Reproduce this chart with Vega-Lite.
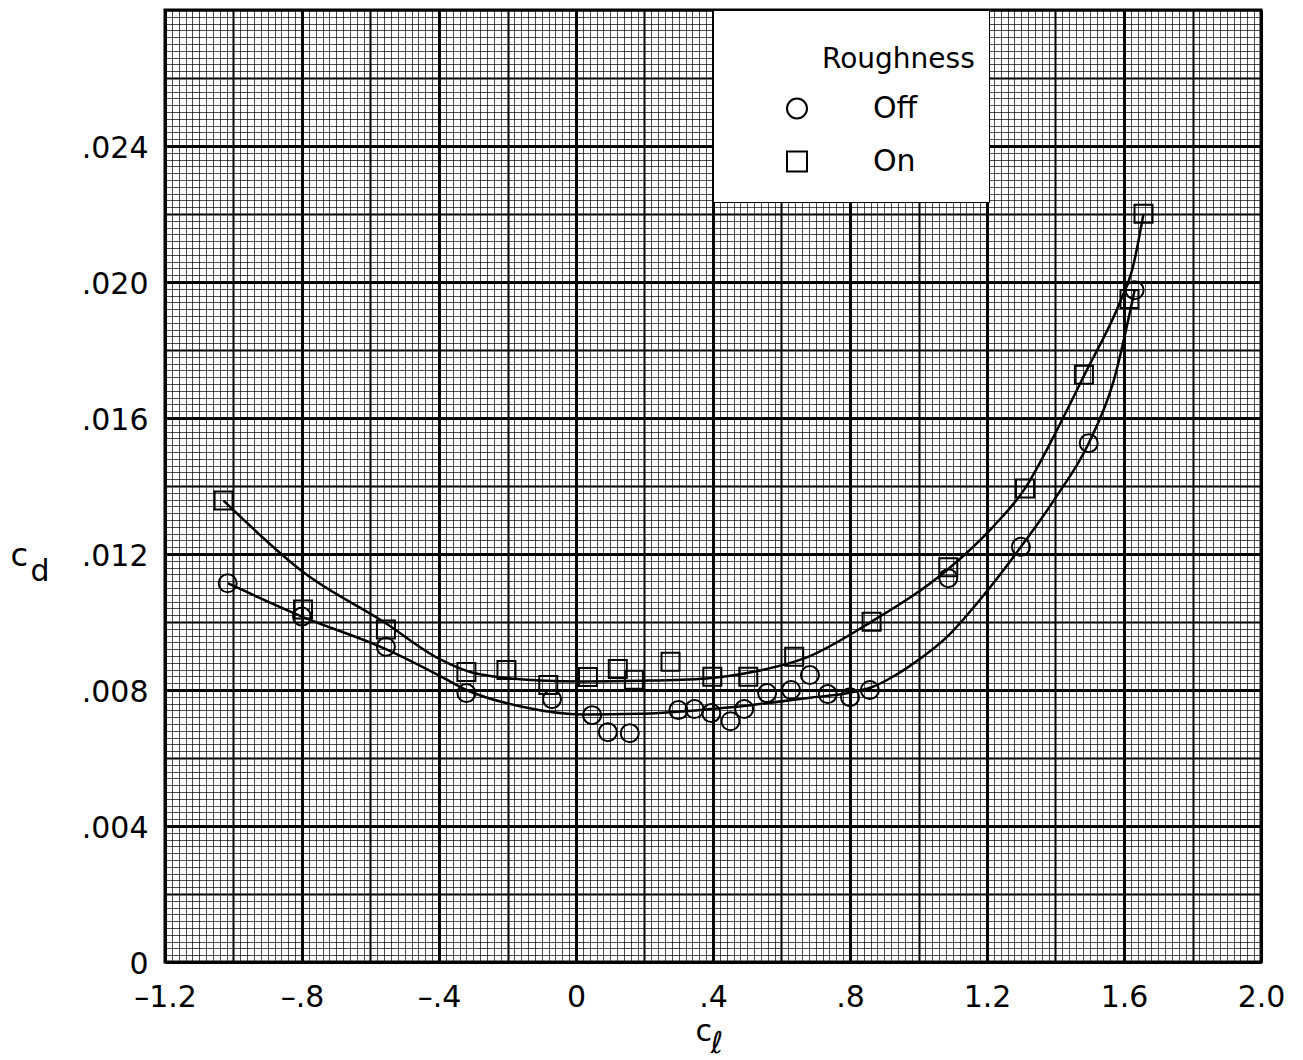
{
  "$schema": "https://vega.github.io/schema/vega-lite/v6.json",
  "width": 1096,
  "height": 952,
  "autosize": {"type": "none"},
  "padding": {"left": 165, "top": 10, "right": 42, "bottom": 98},
  "background": "white",
  "config": {
    "view": {"stroke": "#000", "strokeWidth": 3},
    "font": "DejaVu Sans"
  },
  "datasets": {
    "points": [
      {"roughness": "Off", "cl": -1.017, "cd": 0.01114},
      {"roughness": "Off", "cl": -0.800, "cd": 0.01016},
      {"roughness": "Off", "cl": -0.555, "cd": 0.00927},
      {"roughness": "Off", "cl": -0.320, "cd": 0.00791},
      {"roughness": "Off", "cl": -0.070, "cd": 0.00773},
      {"roughness": "Off", "cl": 0.047, "cd": 0.00726},
      {"roughness": "Off", "cl": 0.093, "cd": 0.00676},
      {"roughness": "Off", "cl": 0.157, "cd": 0.00673},
      {"roughness": "Off", "cl": 0.299, "cd": 0.00741},
      {"roughness": "Off", "cl": 0.346, "cd": 0.00744},
      {"roughness": "Off", "cl": 0.395, "cd": 0.00732},
      {"roughness": "Off", "cl": 0.451, "cd": 0.00708},
      {"roughness": "Off", "cl": 0.491, "cd": 0.00744},
      {"roughness": "Off", "cl": 0.558, "cd": 0.00791},
      {"roughness": "Off", "cl": 0.628, "cd": 0.00800},
      {"roughness": "Off", "cl": 0.683, "cd": 0.00844},
      {"roughness": "Off", "cl": 0.735, "cd": 0.00788},
      {"roughness": "Off", "cl": 0.800, "cd": 0.00779},
      {"roughness": "Off", "cl": 0.858, "cd": 0.00800},
      {"roughness": "Off", "cl": 1.087, "cd": 0.01129},
      {"roughness": "Off", "cl": 1.299, "cd": 0.01221},
      {"roughness": "Off", "cl": 1.497, "cd": 0.01526},
      {"roughness": "Off", "cl": 1.631, "cd": 0.01976},
      {"roughness": "On", "cl": -1.029, "cd": 0.01357},
      {"roughness": "On", "cl": -0.797, "cd": 0.01037},
      {"roughness": "On", "cl": -0.555, "cd": 0.00978},
      {"roughness": "On", "cl": -0.320, "cd": 0.00853},
      {"roughness": "On", "cl": -0.203, "cd": 0.00859},
      {"roughness": "On", "cl": -0.081, "cd": 0.00815},
      {"roughness": "On", "cl": 0.035, "cd": 0.00838},
      {"roughness": "On", "cl": 0.122, "cd": 0.00862},
      {"roughness": "On", "cl": 0.169, "cd": 0.00830},
      {"roughness": "On", "cl": 0.276, "cd": 0.00883},
      {"roughness": "On", "cl": 0.398, "cd": 0.00839},
      {"roughness": "On", "cl": 0.503, "cd": 0.00839},
      {"roughness": "On", "cl": 0.637, "cd": 0.00898},
      {"roughness": "On", "cl": 0.863, "cd": 0.01001},
      {"roughness": "On", "cl": 1.087, "cd": 0.01161},
      {"roughness": "On", "cl": 1.311, "cd": 0.01393},
      {"roughness": "On", "cl": 1.483, "cd": 0.01727},
      {"roughness": "On", "cl": 1.616, "cd": 0.01950},
      {"roughness": "On", "cl": 1.657, "cd": 0.02201}
    ],
    "curves": [
      {"series": "On", "cl": -1.029, "cd": 0.01357},
      {"series": "On", "cl": -0.794, "cd": 0.01145},
      {"series": "On", "cl": -0.561, "cd": 0.01000},
      {"series": "On", "cl": -0.395, "cd": 0.00889},
      {"series": "On", "cl": -0.299, "cd": 0.00850},
      {"series": "On", "cl": -0.105, "cd": 0.00828},
      {"series": "On", "cl": 0.020, "cd": 0.00825},
      {"series": "On", "cl": 0.186, "cd": 0.00827},
      {"series": "On", "cl": 0.381, "cd": 0.00834},
      {"series": "On", "cl": 0.526, "cd": 0.00855},
      {"series": "On", "cl": 0.672, "cd": 0.00895},
      {"series": "On", "cl": 0.863, "cd": 0.01001},
      {"series": "On", "cl": 1.087, "cd": 0.01156},
      {"series": "On", "cl": 1.212, "cd": 0.01274},
      {"series": "On", "cl": 1.311, "cd": 0.01393},
      {"series": "On", "cl": 1.407, "cd": 0.01570},
      {"series": "On", "cl": 1.483, "cd": 0.01724},
      {"series": "On", "cl": 1.590, "cd": 0.01945},
      {"series": "On", "cl": 1.625, "cd": 0.02040},
      {"series": "On", "cl": 1.657, "cd": 0.02201},
      {"series": "Off", "cl": -1.017, "cd": 0.01114},
      {"series": "Off", "cl": -0.800, "cd": 0.01016},
      {"series": "Off", "cl": -0.555, "cd": 0.00920},
      {"series": "Off", "cl": -0.395, "cd": 0.00840},
      {"series": "Off", "cl": -0.320, "cd": 0.00800},
      {"series": "Off", "cl": -0.154, "cd": 0.00750},
      {"series": "Off", "cl": 0.020, "cd": 0.00728},
      {"series": "Off", "cl": 0.186, "cd": 0.00730},
      {"series": "Off", "cl": 0.350, "cd": 0.00740},
      {"series": "Off", "cl": 0.515, "cd": 0.00756},
      {"series": "Off", "cl": 0.689, "cd": 0.00778},
      {"series": "Off", "cl": 0.800, "cd": 0.00792},
      {"series": "Off", "cl": 0.863, "cd": 0.00808},
      {"series": "Off", "cl": 0.930, "cd": 0.00842},
      {"series": "Off", "cl": 0.991, "cd": 0.00882},
      {"series": "Off", "cl": 1.087, "cd": 0.00960},
      {"series": "Off", "cl": 1.183, "cd": 0.01070},
      {"series": "Off", "cl": 1.299, "cd": 0.01221},
      {"series": "Off", "cl": 1.400, "cd": 0.01365},
      {"series": "Off", "cl": 1.497, "cd": 0.01526},
      {"series": "Off", "cl": 1.570, "cd": 0.01710},
      {"series": "Off", "cl": 1.631, "cd": 0.01976}
    ]
  },
  "resolve": {"axis": {"x": "independent", "y": "independent"}},
  "layer": [
    {
      "data": {"name": "curves"},
      "transform": [{"filter": "datum.series == 'On'"}],
      "mark": {"type": "line", "interpolate": "monotone", "color": "black", "strokeWidth": 2.5},
      "encoding": {
        "x": {"field": "cl", "type": "quantitative",
              "scale": {"domain": [-1.2, 2.0], "nice": false, "zero": false},
              "axis": {"orient": "bottom", "labels": false, "ticks": false, "domain": false,
                       "title": "c", "titleAngle": 0, "titleAlign": "left", "titleBaseline": "alphabetic",
                       "titleX": 530, "titleY": 78, "titleFont": "DejaVu Sans", "titleFontSize": 30,
                       "titleFontWeight": "normal", "titleColor": "#000",
                       "grid": true, "tickCount": 160, "gridColor": "#000", "gridWidth": 1, "gridOpacity": 0.7}},
        "y": {"field": "cd", "type": "quantitative",
              "scale": {"domain": [0, 0.028], "nice": false, "zero": false},
              "axis": {"orient": "left", "labels": false, "ticks": false, "domain": false,
                       "title": "c", "titleAngle": 0, "titleAlign": "left", "titleBaseline": "alphabetic",
                       "titleX": -155, "titleY": 555, "titleFont": "DejaVu Sans", "titleFontSize": 32,
                       "titleFontWeight": "normal", "titleColor": "#000",
                       "grid": true, "tickCount": 140, "gridColor": "#000", "gridWidth": 1, "gridOpacity": 0.7}},
        "detail": {"field": "series"}
      }
    },
    {
      "data": {"name": "curves"},
      "transform": [{"filter": "datum.series == 'Off'"}],
      "mark": {"type": "line", "interpolate": "monotone", "color": "black", "strokeWidth": 2.5},
      "encoding": {
        "x": {"field": "cl", "type": "quantitative",
              "axis": {"orient": "bottom", "labels": false, "ticks": false, "domain": false,
                       "title": "ℓ", "titleAngle": 0, "titleAlign": "left", "titleBaseline": "alphabetic",
                       "titleX": 545, "titleY": 90, "titleFont": "DejaVu Sans", "titleFontSize": 30,
                       "titleFontWeight": "normal", "titleFontStyle": "italic", "titleColor": "#000",
                       "grid": true, "tickCount": 16, "gridColor": "#000", "gridWidth": 2, "gridOpacity": 1}},
        "y": {"field": "cd", "type": "quantitative",
              "axis": {"orient": "left", "labels": false, "ticks": false, "domain": false,
                       "title": "d", "titleAngle": 0, "titleAlign": "left", "titleBaseline": "alphabetic",
                       "titleX": -135, "titleY": 570, "titleFont": "DejaVu Sans", "titleFontSize": 30,
                       "titleFontWeight": "normal", "titleColor": "#000",
                       "grid": true, "tickCount": 14, "gridColor": "#000", "gridWidth": 2, "gridOpacity": 1}},
        "detail": {"field": "series"}
      }
    },
    {
      "data": {"name": "points"},
      "mark": {"type": "point", "filled": false, "color": "black", "strokeWidth": 2, "size": 324, "opacity": 1},
      "encoding": {
        "x": {"field": "cl", "type": "quantitative",
              "axis": {"orient": "bottom", "title": null,
                       "values": [-1.2, -0.8, -0.4, 0, 0.4, 0.8, 1.2, 1.6, 2.0],
                       "labelExpr": "datum.value == 0 ? '0' : replace(replace(format(datum.value, '.1f'), '0.', '.'), '\u2212', '\u2013')",
                       "labelFont": "DejaVu Sans", "labelFontSize": 30, "labelColor": "#000", "labelPadding": 20,
                       "labelFlush": false, "labelOverlap": false,
                       "ticks": false, "tickSize": 0, "domain": false,
                       "grid": true, "gridColor": "#000", "gridWidth": 3, "gridOpacity": 1}},
        "y": {"field": "cd", "type": "quantitative",
              "axis": {"orient": "left", "title": null,
                       "values": [0, 0.004, 0.008, 0.012, 0.016, 0.020, 0.024],
                       "labelExpr": "datum.value == 0 ? '0' : replace(format(datum.value, '.3f'), '0.', '.')",
                       "labelFont": "DejaVu Sans", "labelFontSize": 30, "labelColor": "#000", "labelPadding": 17,
                       "labelOffset": 2, "labelOverlap": false,
                       "ticks": false, "tickSize": 0, "domain": false,
                       "grid": true, "gridColor": "#000", "gridWidth": 3, "gridOpacity": 1}},
        "shape": {"field": "roughness", "type": "nominal",
                  "scale": {"domain": ["Off", "On"], "range": ["circle", "square"]},
                  "legend": {"title": "Roughness", "orient": "none", "legendX": 548, "legendY": 0,
                             "fillColor": "white", "strokeColor": "black", "padding": 14,
                             "titleFont": "DejaVu Sans", "titleFontSize": 28, "titleFontWeight": "normal", "titleColor": "#000",
                             "titleAnchor": "middle", "titleAlign": "left",
                             "titleBaseline": "line-top", "titleLineHeight": 72, "titlePadding": 30,
                             "labelFont": "DejaVu Sans", "labelFontSize": 30, "labelColor": "#000",
                             "symbolSize": 400, "symbolStrokeWidth": 2, "symbolStrokeColor": "black",
                             "symbolFillColor": "transparent", "symbolOffset": 55, "labelOffset": 61,
                             "clipHeight": 53, "rowPadding": 0}}
      }
    }
  ]
}
